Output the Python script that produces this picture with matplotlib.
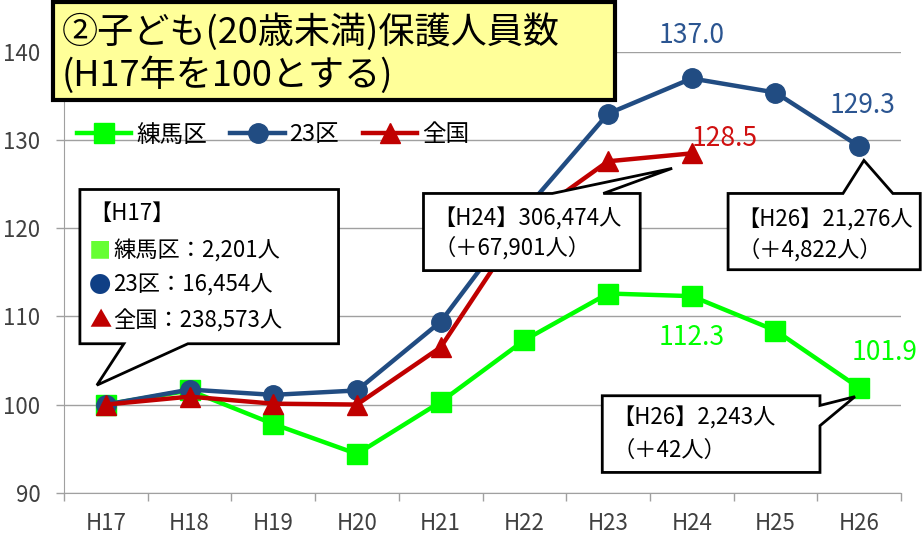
import numpy as np
import matplotlib
import matplotlib.pyplot as plt
from matplotlib.patches import Polygon, Rectangle

plt.rcParams['font.family'] = ['Noto Sans CJK JP', 'DejaVu Sans']

years = ['H17', 'H18', 'H19', 'H20', 'H21', 'H22', 'H23', 'H24', 'H25', 'H26']
nerima = [100.0, 101.6, 97.8, 94.4, 100.3, 107.3, 112.6, 112.3, 108.4, 101.9]
ku23 = [100.0, 101.7, 101.1, 101.6, 109.4, 122.0, 133.0, 137.0, 135.4, 129.3]
zenkoku = [100.0, 100.9, 100.1, 100.0, 106.5, 120.8, 127.6, 128.5]

green = '#00FF00'
blue = '#214C82'
red = '#C00000'

fig = plt.figure(figsize=(9.22, 5.35), dpi=100)
ax = fig.add_axes([64 / 922, 1 - 492.7 / 535, (901 - 64) / 922, (492.7 - 52) / 535])

x = np.arange(len(years))
ax.plot(x, nerima, color=green, lw=3.2, marker='s', ms=14, label='練馬区', zorder=3)
ax.plot(x, ku23, color=blue, lw=3.2, marker='o', ms=14, label='23区', zorder=4)
ax.plot(x[:len(zenkoku)], zenkoku, color=red, lw=3.2, marker='^', ms=15, label='全国', zorder=5)

ax.set_xlim(-0.5, len(years) - 0.5)
ax.set_ylim(90, 140)
ax.set_yticks(np.arange(90, 141, 10))
ax.set_xticks(x)
ax.set_xticklabels(years)
ax.set_xticks(np.arange(-0.5, len(years)), minor=True)
ax.tick_params(axis='x', which='major', length=0, pad=14, labelsize=16, labelcolor='#404040')
ax.tick_params(axis='x', which='minor', length=6, width=1, color='#A0A0A0', direction='out')
ax.tick_params(axis='y', length=6, width=1, color='#A0A0A0', pad=11, labelsize=16, labelcolor='#404040')
ax.grid(axis='y', color='#A0A0A0', lw=1)
ax.set_axisbelow(True)
for s in ['top', 'right']:
    ax.spines[s].set_visible(False)
for s in ['left', 'bottom']:
    ax.spines[s].set_color('#A0A0A0')

ax.legend(loc='center left', bbox_to_anchor=(0.0155, 0.8117), ncol=3, frameon=False,
          fontsize=17, handlelength=2.3, handletextpad=0.2, columnspacing=1.0,
          borderaxespad=0, borderpad=0)

# data labels
lab = dict(textcoords='offset pixels', fontsize=19, va='center')
ax.annotate('137.0', (7, ku23[7]), xytext=(0, 43), ha='center', color='#2B5591', **lab)
ax.annotate('129.3', (9, ku23[9]), xytext=(3, 41), ha='center', color='#2B5591', **lab)
ax.annotate('128.5', (7, zenkoku[7]), xytext=(0, 15), ha='left', color='#D01010', **lab)
ax.annotate('112.3', (7, nerima[7]), xytext=(0, -41), ha='center', color=green, **lab)
ax.annotate('101.9', (9, nerima[9]), xytext=(-8, 35), ha='left', color=green, **lab)


def callout(verts):
    ax.add_patch(Polygon(verts, closed=True, facecolor='white', edgecolor='black',
                         lw=2, zorder=6, clip_on=False))


# H17
x0, x1, yt, yb = -0.31, 2.78, 124.4, 106.9
callout([(x0, yt), (x1, yt), (x1, yb), (0.98, yb), (-0.107, 102.2), (0.215, yb), (x0, yb)])
ct = dict(fontsize=16, va='center', ha='left', zorder=7)
ax.text(-0.203, 121.7, '【H17】', **ct)
ax.text(-0.203, 117.5, '■', color='#66FF33', **ct)
ax.text(0.084, 117.5, '練馬区：2,201人', **ct)
ax.text(-0.203, 113.5, '●', color='#0F3F85', **ct)
ax.text(0.084, 113.5, '23区：16,454人', **ct)
ax.text(-0.203, 109.5, '▲', color=red, **ct)
ax.text(0.084, 109.5, '全国：238,573人', **ct)

# H24
x0, x1, yt, yb = 3.795, 6.384, 123.95, 115.2
callout([(x0, yt), (5.334, yt), (6.766, 126.8), (5.943, yt), (x1, yt), (x1, yb), (x0, yb)])
ax.text(3.914, 121.1, '【H24】306,474人', **ct)
ax.text(3.914, 117.8, '（＋67,901人）', **ct)

# H26 23区
x0, x1, yt, yb = 7.434, 9.73, 123.95, 115.3
callout([(x0, yt), (8.807, yt), (9.057, 127.7), (9.403, yt), (x1, yt), (x1, yb), (x0, yb)])
ax.text(7.542, 120.9, '【H26】21,276人', **ct)
ax.text(7.542, 117.5, '（＋4,822人）', **ct)

# H26 練馬区
x0, x1, yt, yb = 5.931, 8.532, 101.0, 92.3
callout([(x0, yt), (x1, yt), (x1, 99.9), (8.95, 100.9), (x1, 97.6), (x1, yb), (x0, yb)])
ax.text(6.05, 98.5, '【H26】2,243人', **ct)
ax.text(6.05, 94.8, '（＋42人）', **ct)

# title box
fig.patches.append(Rectangle((53 / 922, 1 - 100 / 535), (615 - 53) / 922, 98 / 535,
                             transform=fig.transFigure, facecolor='#FFFF99',
                             edgecolor='black', lw=3, zorder=10))
fig.text(62 / 922, 1 - 32 / 535, '②子ども(20歳未満)保護人員数', fontsize=26,
         va='center', ha='left', zorder=11)
fig.text(62 / 922, 1 - 75 / 535, '(H17年を100とする)', fontsize=26,
         va='center', ha='left', zorder=11)

plt.savefig('out.png', dpi=100)
